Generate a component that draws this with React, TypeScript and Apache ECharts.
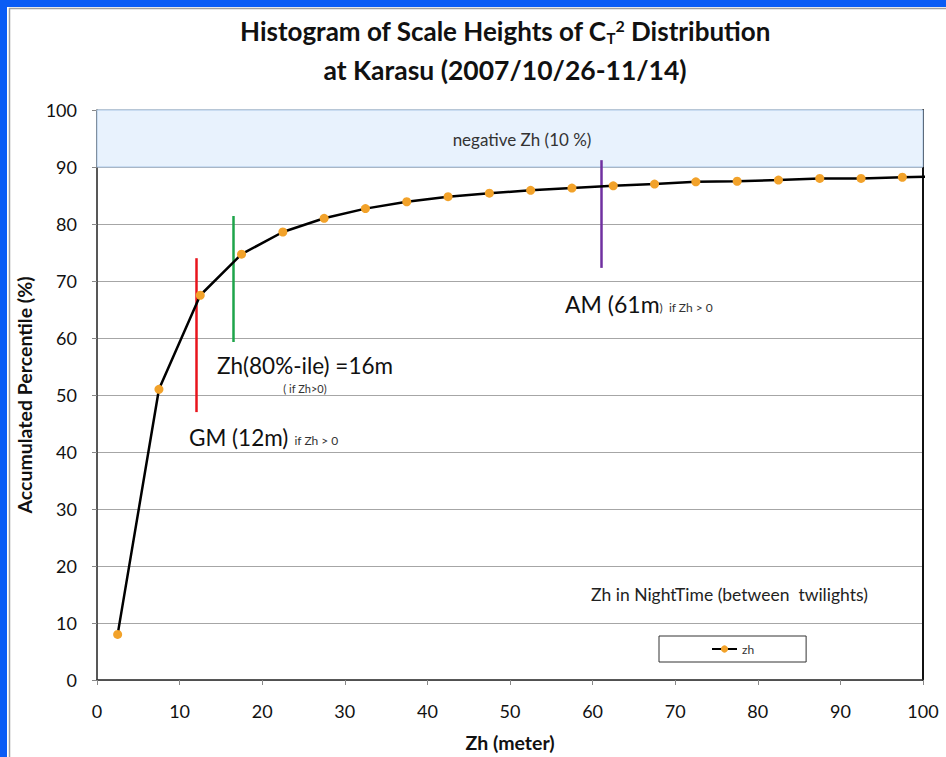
import React, { useEffect, useRef } from "react";
import * as echarts from "echarts";

const zhBins = [2.5, 7.5, 12.5, 17.5, 22.5, 27.5, 32.5, 37.5, 42.5, 47.5, 52.5, 57.5, 62.5, 67.5, 72.5, 77.5, 82.5, 87.5, 92.5, 97.5, 102.5];
const accumulated = [8, 51, 67.5, 74.7, 78.6, 81.0, 82.7, 83.9, 84.8, 85.4, 85.9, 86.3, 86.7, 87.0, 87.4, 87.5, 87.7, 88.0, 88.0, 88.2, 88.4];
const xTicks = [0, 100, 10];
const yTicks = [0, 100, 10];
const negativeBand = [90, 100];
// vertical markers: [x, yFrom, yTo, color]
const markerX = [12, 16.5, 61];
const markerFrom = [47, 59.3, 72.3];
const markerTo = [74, 81.4, 91.2];
const markerColors = ["#e8141c", "#1ea44a", "#7030a0"];

const FONT = "Lato, 'Open Sans', sans-serif";

export default function App() {
  const ref = useRef<HTMLDivElement>(null);
  useEffect(() => {
    if (!ref.current) return;
    const chart = echarts.init(ref.current, null, { renderer: "svg" });
    const seriesData = zhBins.map((x, i) => [x, accumulated[i]]);
    const markLines = markerX.map((x, i) => [
      { coord: [x, markerFrom[i]], lineStyle: { color: markerColors[i], width: 2.5, type: "solid" } },
      { coord: [x, markerTo[i]] },
    ]);
    chart.setOption({
      animation: false,
      backgroundColor: "#ffffff",
      textStyle: { fontFamily: FONT },
      grid: { left: 97, right: 23, top: 110, bottom: 77, show: true, borderColor: "#8c8c8c", borderWidth: 1 },
      legend: {
        show: true,
        left: 659,
        top: 636,
        data: ["zh"],
        itemWidth: 25,
        itemHeight: 9,
        itemGap: 4,
        padding: [7, 52, 7, 52],
        borderColor: "#333",
        borderWidth: 1,
        borderRadius: 0,
        textStyle: { fontSize: 12, color: "#333", fontFamily: FONT },
      },
      xAxis: [
        {
          type: "value",
          min: xTicks[0],
          max: xTicks[1],
          interval: xTicks[2],
          name: "Zh (meter)",
          nameLocation: "middle",
          nameGap: 52,
          nameTextStyle: { fontSize: 19.5, fontWeight: "bold", color: "#111", fontFamily: FONT },
          axisLine: { show: true, lineStyle: { color: "#333", width: 1.5 } },
          axisTick: { show: true, length: 5, lineStyle: { color: "#888" } },
          axisLabel: { fontSize: 18, color: "#111", margin: 22, fontFamily: FONT },
          splitLine: { show: false },
        },
      ],
      yAxis: [
        {
          type: "value",
          min: yTicks[0],
          max: yTicks[1],
          interval: yTicks[2],
          name: "Accumulated Percentile (%)",
          nameLocation: "middle",
          nameGap: 56,
          nameTextStyle: { fontSize: 19.5, fontWeight: "bold", color: "#111", fontFamily: FONT },
          axisLine: { show: true, lineStyle: { color: "#333", width: 1.5 } },
          axisTick: { show: true, length: 5, lineStyle: { color: "#888" } },
          axisLabel: { fontSize: 18, color: "#111", margin: 20, fontFamily: FONT },
          splitLine: { show: true, lineStyle: { color: "#a6a6a6", width: 1 } },
        },
        {
          type: "value",
          position: "right",
          min: yTicks[0],
          max: yTicks[1],
          interval: yTicks[2],
          axisLine: { show: true, lineStyle: { color: "#111", width: 2 } },
          axisTick: { show: false },
          axisLabel: { show: false },
          splitLine: { show: false },
        },
      ],
      series: [
        {
          name: "zh",
          type: "line",
          data: seriesData,
          clip: true,
          symbol: "circle",
          symbolSize: 9,
          showSymbol: true,
          lineStyle: { color: "#000", width: 2.5 },
          itemStyle: { color: "#f2a22a" },
          z: 5,
          markArea: {
            silent: true,
            itemStyle: { color: "#e8f2fd", borderColor: "#a9c6e6", borderWidth: 1 },
            data: [[{ yAxis: negativeBand[0] }, { yAxis: negativeBand[1] }]],
          },
          markLine: {
            silent: true,
            symbol: "none",
            label: { show: false },
            data: markLines,
          },
        },
      ],
      graphic: [
        { type: "rect", left: 0, top: 0, shape: { width: 946, height: 7 }, style: { fill: "#0a5cf5" }, z: 100 },
        { type: "rect", left: 0, top: 0, shape: { width: 7, height: 757 }, style: { fill: "#0a5cf5" }, z: 100 },
        { type: "line", shape: { x1: 9.5, y1: 8, x2: 9.5, y2: 757 }, style: { stroke: "#a0a0a0", lineWidth: 1.5 }, z: 100 },
        { type: "line", shape: { x1: 9, y1: 8.5, x2: 946, y2: 8.5 }, style: { stroke: "#a0a0a0", lineWidth: 1.5 }, z: 100 },
        {
          type: "text",
          x: 505,
          y: 31,
          z: 100,
          style: {
            text: "Histogram of Scale Heights of C{sub|T}{sup|2} Distribution",
            align: "center",
            verticalAlign: "middle",
            font: `bold 26px ${FONT}`,
            fill: "#111",
            rich: {
              sub: { fontSize: 15, fontWeight: "bold", verticalAlign: "bottom", padding: [12, 0, 0, 0], fontFamily: FONT },
              sup: { fontSize: 16, fontWeight: "bold", verticalAlign: "top", padding: [0, 0, 12, 0], fontFamily: FONT },
            },
          },
        },
        {
          type: "text",
          x: 505,
          y: 70,
          z: 100,
          style: { text: "at Karasu (2007/10/26-11/14)", align: "center", verticalAlign: "middle", font: `bold 26.5px ${FONT}`, fill: "#111" },
        },
        {
          type: "text",
          x: 522,
          y: 139,
          z: 100,
          style: { text: "negative Zh (10 %)", align: "center", verticalAlign: "middle", font: `17px ${FONT}`, fill: "#333" },
        },
        {
          type: "text",
          x: 565,
          y: 304,
          z: 100,
          style: {
            text: "AM (61m{s|)  if Zh > 0}",
            align: "left",
            verticalAlign: "middle",
            font: `23px ${FONT}`,
            fill: "#111",
            rich: { s: { fontSize: 12, fill: "#333", fontFamily: FONT, padding: [6, 0, 0, 0] } },
          },
        },
        {
          type: "text",
          x: 217,
          y: 365,
          z: 100,
          style: { text: "Zh(80%-ile) =16m", align: "left", verticalAlign: "middle", font: `22.5px ${FONT}`, fill: "#111" },
        },
        {
          type: "text",
          x: 305,
          y: 388,
          z: 100,
          style: { text: "( if Zh>0)", align: "center", verticalAlign: "middle", font: `11px ${FONT}`, fill: "#333" },
        },
        {
          type: "text",
          x: 189,
          y: 437,
          z: 100,
          style: {
            text: "GM (12m){s|  if Zh > 0}",
            align: "left",
            verticalAlign: "middle",
            font: `22.5px ${FONT}`,
            fill: "#111",
            rich: { s: { fontSize: 12, fill: "#333", fontFamily: FONT, padding: [6, 0, 0, 0] } },
          },
        },
        {
          type: "text",
          x: 591,
          y: 594,
          z: 100,
          style: { text: "Zh in NightTime (between  twilights)", align: "left", verticalAlign: "middle", font: `17.5px ${FONT}`, fill: "#222" },
        },
      ],
    });
    return () => chart.dispose();
  }, []);
  return <div ref={ref} style={{ position: "fixed", left: 0, top: 0, width: 946, height: 757 }} />;
}
